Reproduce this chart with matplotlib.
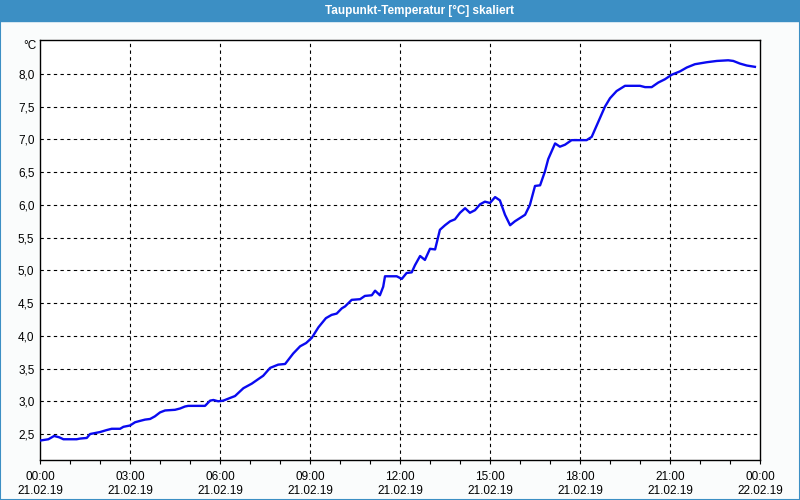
import matplotlib.pyplot as plt
from matplotlib.patches import Rectangle
from matplotlib.ticker import MultipleLocator

# dew point readings, hours since 21.02.19 00:00
hours = [0.00, 0.28, 0.47, 0.64, 0.78, 1.22, 1.33, 1.56, 1.67, 2.00, 2.22, 2.39,
         2.67, 2.78, 3.00, 3.17, 3.33, 3.50, 3.67, 3.83, 4.00, 4.17, 4.50, 4.67,
         4.83, 4.94, 5.50, 5.67, 5.78, 5.94, 6.11, 6.33, 6.50, 6.78, 7.06, 7.28,
         7.44, 7.67, 7.94, 8.17, 8.44, 8.67, 8.87, 9.06, 9.28, 9.53, 9.72, 9.89,
         10.06, 10.17, 10.39, 10.67, 10.83, 11.06, 11.17, 11.33, 11.44, 11.50,
         11.89, 12.06, 12.22, 12.39, 12.50, 12.67, 12.83, 13.00, 13.17, 13.33,
         13.50, 13.67, 13.83, 14.00, 14.17, 14.33, 14.50, 14.67, 14.83, 15.00,
         15.17, 15.33, 15.50, 15.67, 15.83, 16.00, 16.17, 16.33, 16.50, 16.67,
         16.83, 16.94, 17.17, 17.33, 17.50, 17.72, 18.22, 18.39, 18.61, 18.83,
         19.00, 19.22, 19.50, 20.00, 20.17, 20.39, 20.61, 20.83, 21.06, 21.33,
         21.56, 21.83, 22.22, 22.56, 22.94, 23.11, 23.33, 23.56, 23.83]
dewpoint = [2.40, 2.42, 2.47, 2.45, 2.42, 2.42, 2.43, 2.44, 2.50, 2.53, 2.56, 2.58,
            2.58, 2.61, 2.63, 2.68, 2.70, 2.72, 2.73, 2.77, 2.83, 2.86, 2.87, 2.89,
            2.92, 2.93, 2.93, 3.01, 3.02, 3.00, 3.01, 3.05, 3.08, 3.20, 3.27, 3.34,
            3.39, 3.51, 3.56, 3.57, 3.73, 3.84, 3.89, 3.97, 4.13, 4.27, 4.32, 4.34,
            4.42, 4.45, 4.55, 4.56, 4.61, 4.62, 4.69, 4.62, 4.75, 4.91,
            4.91, 4.87, 4.96, 4.97, 5.08, 5.22, 5.16, 5.33, 5.32, 5.62,
            5.69, 5.75, 5.78, 5.88, 5.95, 5.88, 5.92, 6.01, 6.05, 6.03,
            6.12, 6.07, 5.85, 5.69, 5.75, 5.80, 5.85, 6.00, 6.29, 6.30,
            6.51, 6.70, 6.94, 6.89, 6.92, 6.99, 6.99, 7.04, 7.27, 7.50,
            7.63, 7.74, 7.82, 7.82, 7.80, 7.80, 7.87, 7.92, 7.99, 8.04,
            8.10, 8.15, 8.18, 8.20, 8.21, 8.20, 8.16, 8.13, 8.11]

y_ticks = [2.5, 3.0, 3.5, 4.0, 4.5, 5.0, 5.5, 6.0, 6.5, 7.0, 7.5, 8.0]
y_labels = ["2,5", "3,0", "3,5", "4,0", "4,5", "5,0", "5,5", "6,0", "6,5", "7,0", "7,5", "8,0"]
x_ticks = [0, 3, 6, 9, 12, 15, 18, 21, 24]
x_labels = ["00:00\n21.02.19", "03:00\n21.02.19", "06:00\n21.02.19", "09:00\n21.02.19",
            "12:00\n21.02.19", "15:00\n21.02.19", "18:00\n21.02.19", "21:00\n21.02.19",
            "00:00\n22.02.19"]

frame_blue = "#3c8fc4"
plt.rcParams["font.family"] = ["Liberation Sans", "DejaVu Sans"]

fig = plt.figure(figsize=(8, 5), dpi=100, facecolor="#fafcfc")

# window title bar and border
fig.patches.append(Rectangle((0, 1 - 21 / 500), 1, 21 / 500, transform=fig.transFigure,
                             color=frame_blue, zorder=0))
fig.patches.append(Rectangle((0, 0), 1, 1, transform=fig.transFigure, fill=False,
                             edgecolor=frame_blue, lw=1.5, zorder=0))
fig.text(419.5 / 800, 1 - 10.5 / 500, "Taupunkt-Temperatur [°C] skaliert", color="white",
         fontsize=8.5, fontweight="bold", ha="center", va="center")

ax = fig.add_axes([40 / 800, 40 / 500, 720 / 800, 420 / 500])
ax.set_facecolor("white")
ax.plot(hours, dewpoint, color="#0a0af0", lw=1.7, zorder=3)

ax.set_xlim(0, 24)
ax.set_ylim(2.103, 8.52)

ax.set_yticks(y_ticks)
ax.set_yticklabels(y_labels)
ax.set_xticks(x_ticks)
ax.set_xticklabels(x_labels, linespacing=1.2)
ax.xaxis.set_minor_locator(MultipleLocator(1))
ax.tick_params(axis="y", length=0, pad=4, labelsize=8.5)
ax.tick_params(axis="x", which="both", length=3, width=0.8, pad=5, labelsize=8.5)

for v in y_ticks:
    ax.axhline(v, color="black", lw=0.8, ls=(0, (3, 3)), zorder=1)
for h in x_ticks[1:-1]:
    ax.axvline(h, color="black", lw=0.8, ls=(0, (3, 3)), zorder=1)

for s in ax.spines.values():
    s.set_linewidth(1.0)
    s.set_color("black")

fig.text(30 / 800, 1 - 46 / 500, "°C", fontsize=8.5, ha="center", va="center")

fig.savefig("out.png", dpi=100, facecolor=fig.get_facecolor())
